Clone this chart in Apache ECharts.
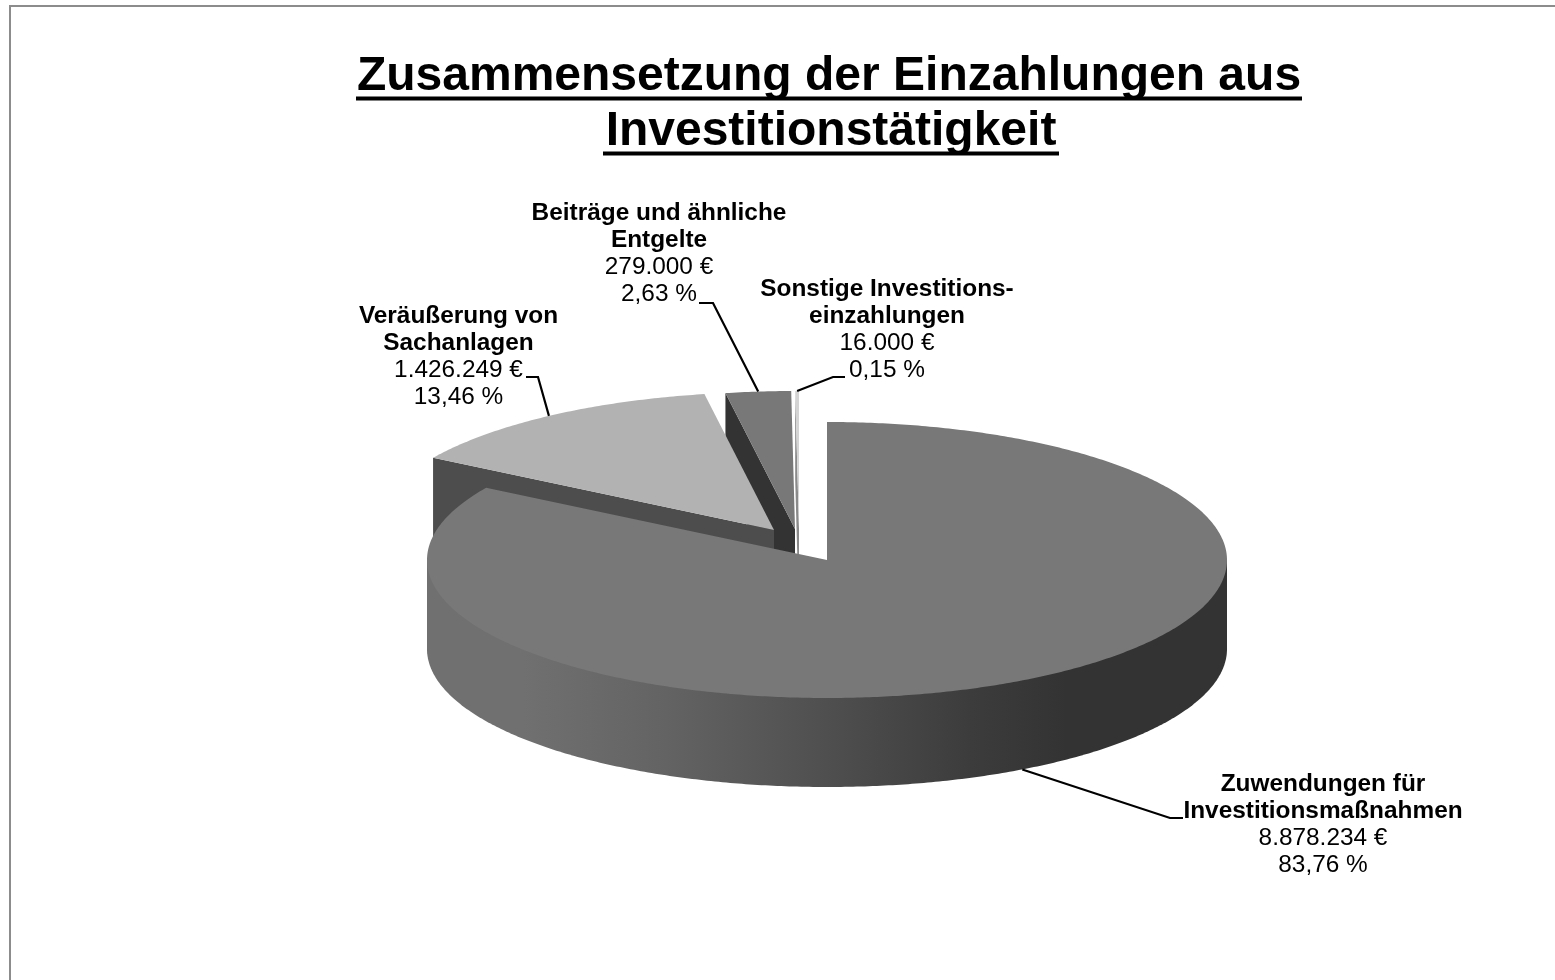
<!DOCTYPE html>
<html><head><meta charset="utf-8">
<style>html,body{margin:0;padding:0;background:#fff}#c{width:1555px;height:980px}</style>
<script src="https://cdn.jsdelivr.net/npm/echarts@6/dist/echarts.min.js"></script>
</head><body><div id="c"></div>
<script>
const titleLines = ['Zusammensetzung der Einzahlungen aus', 'Investitionstätigkeit'];
const categories = [['Zuwendungen für','Investitionsmaßnahmen'], ['Veräußerung von','Sachanlagen'], ['Beiträge und ähnliche','Entgelte'], ['Sonstige Investitions-','einzahlungen']];
const values = [8878234, 1426249, 279000, 16000];

// layout / style only
const C = {x:827, y:560, rx:400, ry:138, depth:89};
const offsets = [[0,0],[-53,-30],[-32,-31],[-28,-31]];
const topColors = ['#787878','#b2b2b2','#787878','#d4d4d4'];
const cutColors = [null,'#4d4d4d','#333333','#8a8a8a'];
const labelPos = [[1323,825],[458.5,357],[659,254],[887,330]];
const knees = [[[1183,818],[1170,818]],[[526,377],[538,377]],[[699,303],[713,303]],[[845,377],[833,377]]];
const leaderOffsetDepth = [1,0,0,0];

const total = values.reduce((a,b)=>a+b,0);
const de = v => v.toString().replace(/\B(?=(\d{3})+$)/g,'.');
const pct = v => (v/total*100).toFixed(2).replace('.',',');
const spans = []; let acc = 0;
values.forEach(v=>{const s=acc/total*Math.PI*2; acc+=v; spans.push([s,acc/total*Math.PI*2]);});
const pt = (a,o,d=0)=>[C.x+o[0]+C.rx*Math.sin(a), C.y+o[1]-C.ry*Math.cos(a)+d];
const arc = (a,b,o,d=0)=>{const n=Math.max(2,Math.ceil(Math.abs(b-a)/0.01)),r=[];for(let i=0;i<=n;i++)r.push(pt(a+(b-a)*i/n,o,d));return r;};
const apex = (o,d=0)=>[C.x+o[0],C.y+o[1]+d];

const sideGrad = new echarts.graphic.LinearGradient(0,0,1,0,[
 {offset:0,color:'#707070'},{offset:0.12,color:'#707070'},{offset:0.3,color:'#636363'},
 {offset:0.5,color:'#4f4f4f'},{offset:0.68,color:'#3c3c3c'},{offset:0.8,color:'#333333'},{offset:1,color:'#333333'}]);

function renderSlice(params, api){
  const i = api.value(0), o = offsets[i], [a,b] = spans[i], kids = [];
  if(i>0){
    kids.push({type:'polygon',shape:{points:[pt(a,o),apex(o),apex(o,C.depth),pt(a,o,C.depth)]},style:{fill:cutColors[i]}});
  }else{
    const lowerB = arc(Math.PI*1.5,Math.PI/2,o,C.depth);
    kids.push({type:'polygon',shape:{points:[pt(Math.PI/2,o),pt(Math.PI*1.5,o)].concat(lowerB)},style:{fill:sideGrad}});
  }
  kids.push({type:'polygon',shape:{points:[apex(o)].concat(arc(a,b,o))},style:{fill:topColors[i]}});
  return {type:'group',children:kids};
}
function renderLabel(params, api){
  const i = api.value(0), o = offsets[i], [a,b] = spans[i], m=(a+b)/2;
  const end = pt(m,o,leaderOffsetDepth[i]*C.depth);
  const names = categories[i].map(t=>'{b|'+t+'}').join('\n');
  return {type:'group',children:[
    {type:'polyline',shape:{points:[knees[i][0],knees[i][1],end]},style:{stroke:'#000',lineWidth:2.2,fill:null}},
    {type:'text',x:labelPos[i][0],y:labelPos[i][1],style:{
      text:names+'\n{r|'+de(values[i])+' €}\n{r|'+pct(values[i])+' %}',
      align:'center',verticalAlign:'middle',
      rich:{b:{font:'bold 24.4px "Liberation Sans"',fill:'#000',lineHeight:27,align:'center'},
            r:{font:'24.4px "Liberation Sans"',fill:'#000',lineHeight:27,align:'center'}}}}
  ]};
}
const order = [3,2,1,0];
const chart = echarts.init(document.getElementById('c'),null,{renderer:'canvas'});
chart.setOption({
  animation:false,backgroundColor:'#ffffff',
  graphic:{elements:[
    {type:'polyline',silent:true,shape:{points:[[10,980],[10,6],[1555,6]]},style:{stroke:'#8c8c8c',lineWidth:2,fill:null}},
    {type:'text',x:829,y:77,style:{text:titleLines[0],font:'bold 48px "Liberation Sans"',fill:'#000',align:'center',verticalAlign:'middle'}},
    {type:'text',x:831,y:132,style:{text:titleLines[1],font:'bold 48px "Liberation Sans"',fill:'#000',align:'center',verticalAlign:'middle'}},
    {type:'line',shape:{x1:356,y1:98.5,x2:1302,y2:98.5},style:{stroke:'#000',lineWidth:4}},
    {type:'line',shape:{x1:603,y1:153.5,x2:1059,y2:153.5},style:{stroke:'#000',lineWidth:4}}
  ]},
  series:[
    {type:'custom',coordinateSystem:'none',silent:true,renderItem:renderSlice,data:order.map(i=>[i]),z:2},
    {type:'custom',coordinateSystem:'none',silent:true,renderItem:renderLabel,data:order.map(i=>[i]),z:3}
  ]
});
</script></body></html>
